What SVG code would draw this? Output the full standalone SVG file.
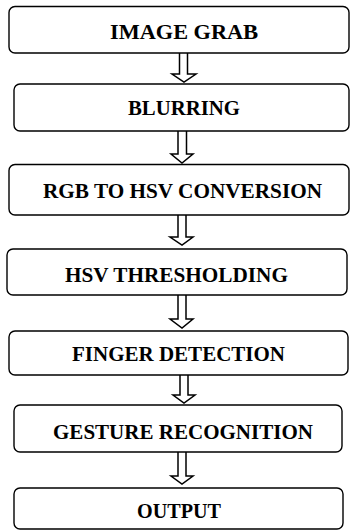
<svg xmlns="http://www.w3.org/2000/svg" width="350" height="531" viewBox="0 0 350 531">
<style>
.box{fill:#fff;stroke:#000;stroke-width:1.4}
.lbl{font-family:"Liberation Serif","Times New Roman",serif;font-weight:bold;font-size:20.5px;fill:#000;text-anchor:middle}
.arr{fill:#fff;stroke:#000;stroke-width:1.5;stroke-linejoin:miter}
</style>
<rect width="350" height="531" fill="#fff"/>
<g id="connectors">
<path class="arr" d="M179.5,53 V74 H172 L184,82 L196,74 H187.5 V53"/>
<path class="arr" d="M178,131 V154 H171 L182,163 L193,154 H186.5 V131"/>
<path class="arr" d="M178,215 V237 H170 L182,245 L193,237 H186 V215"/>
<path class="arr" d="M178,295 V319 H170 L182,328 L193,319 H186 V295"/>
<path class="arr" d="M180,375 V395 H173 L184,403 L195,395 H188 V375"/>
<path class="arr" d="M178,452 V476 H171 L182,484 L193,476 H186 V452"/>
</g>
<g id="n1"><rect class="box" x="9" y="6.5" width="340" height="46.5" rx="6"/><text class="lbl" x="184" y="39" textLength="148" lengthAdjust="spacingAndGlyphs">IMAGE GRAB</text></g>
<g id="n2"><rect class="box" x="14" y="84" width="335" height="47" rx="6"/><text class="lbl" x="184" y="115" textLength="112" lengthAdjust="spacingAndGlyphs">BLURRING</text></g>
<g id="n3"><rect class="box" x="9" y="164.5" width="340" height="50.5" rx="6"/><text class="lbl" x="182.5" y="197.5" textLength="279" lengthAdjust="spacingAndGlyphs">RGB TO HSV CONVERSION</text></g>
<g id="n4"><rect class="box" x="7" y="249" width="340" height="46" rx="6"/><text class="lbl" x="176.5" y="281.5" textLength="223" lengthAdjust="spacingAndGlyphs">HSV THRESHOLDING</text></g>
<g id="n5"><rect class="box" x="9" y="331" width="339" height="44" rx="6"/><text class="lbl" x="178.5" y="361" textLength="213" lengthAdjust="spacingAndGlyphs">FINGER DETECTION</text></g>
<g id="n6"><rect class="box" x="14" y="405" width="328" height="47" rx="6"/><text class="lbl" x="183" y="439" textLength="260" lengthAdjust="spacingAndGlyphs">GESTURE RECOGNITION</text></g>
<g id="n7"><rect class="box" x="14" y="488" width="329" height="41" rx="6"/><text class="lbl" x="179" y="517.5" textLength="84" lengthAdjust="spacingAndGlyphs">OUTPUT</text></g>
</svg>
